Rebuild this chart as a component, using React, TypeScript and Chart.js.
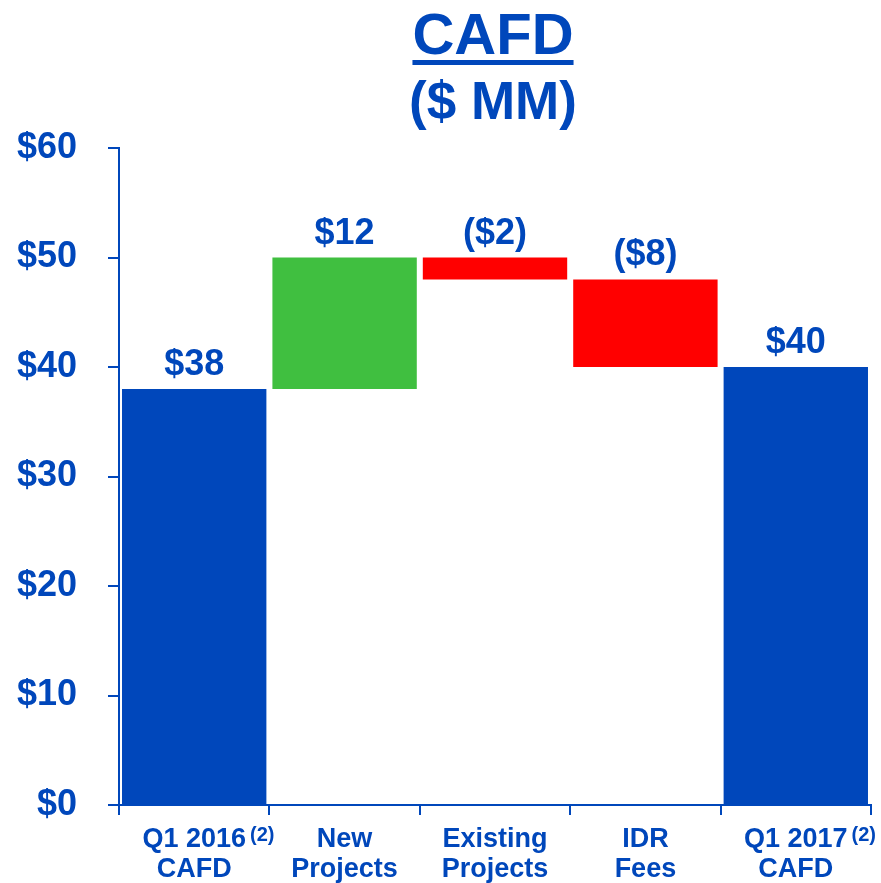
import React, { useEffect, useRef } from "react";
import { Chart, registerables } from "chart.js";

Chart.register(...registerables);

const categoryLines: string[][] = [
  ["Q1 2016", "CAFD"],
  ["New", "Projects"],
  ["Existing", "Projects"],
  ["IDR", "Fees"],
  ["Q1 2017", "CAFD"],
];
const categorySup: string[] = ["(2)", "", "", "", "(2)"];
const changes: number[] = [38, 12, -2, -8, 40];
const kinds: string[] = ["total", "delta", "delta", "delta", "total"];
const valueLabels: string[] = ["$38", "$12", "($2)", "($8)", "$40"];
const yTicks: number[] = [0, 10, 20, 30, 40, 50, 60];
const titleLine1 = "CAFD";
const titleLine2 = "($ MM)";

const BLUE = "#0047BB";
const GREEN = "#40BF40";
const RED = "#FF0000";
const FONT = "'Liberation Sans', Arial, sans-serif";

function buildRanges(): [number, number][] {
  let running = 0;
  return changes.map((v, i) => {
    if (kinds[i] === "total") {
      running = v;
      return [0, v] as [number, number];
    }
    const start = running;
    running = running + v;
    return [start, running] as [number, number];
  });
}

function barColor(i: number): string {
  if (kinds[i] === "total") return BLUE;
  return changes[i] >= 0 ? GREEN : RED;
}

const overlayPlugin = {
  id: "overlay",
  afterDraw(chart: any) {
    const ctx = chart.ctx;
    const area = chart.chartArea;
    const cx = (area.left + area.right) / 2 - 2;
    ctx.save();
    ctx.fillStyle = BLUE;
    ctx.textAlign = "center";
    ctx.textBaseline = "alphabetic";
    // title
    ctx.font = `bold 58px ${FONT}`;
    ctx.fillText(titleLine1, cx, 54);
    const w = ctx.measureText(titleLine1).width;
    ctx.fillRect(cx - w / 2, 60, w, 5);
    ctx.font = `bold 53px ${FONT}`;
    ctx.fillText(titleLine2, cx, 119);

    // value labels
    const meta = chart.getDatasetMeta(0);
    ctx.font = `bold 36px ${FONT}`;
    meta.data.forEach((el: any, i: number) => {
      const top = Math.min(el.y, el.base);
      ctx.fillText(valueLabels[i], el.x, top - 14);
    });

    // x category labels
    const xs = chart.scales.x;
    categoryLines.forEach((lines, i) => {
      const x = xs.getPixelForValue(i);
      ctx.font = `bold 27px ${FONT}`;
      ctx.textAlign = "center";
      ctx.fillText(lines[0], x, 847);
      ctx.fillText(lines[1], x, 877);
      if (categorySup[i]) {
        const lw = ctx.measureText(lines[0]).width;
        ctx.font = `bold 20px ${FONT}`;
        ctx.textAlign = "left";
        ctx.fillText(categorySup[i], x + lw / 2 + 4, 841);
      }
    });
    ctx.restore();
  },
};

export default function App() {
  const ref = useRef<HTMLCanvasElement | null>(null);
  useEffect(() => {
    if (!ref.current) return;
    const ranges = buildRanges();
    const chart = new Chart(ref.current, {
      type: "bar",
      data: {
        labels: categoryLines.map((l) => l.join(" ")),
        datasets: [
          {
            data: ranges as any,
            backgroundColor: changes.map((_, i) => barColor(i)),
            borderWidth: 0,
            barPercentage: 0.96,
            categoryPercentage: 1,
          },
        ],
      },
      options: {
        animation: false,
        responsive: false,
        maintainAspectRatio: false,
        layout: { padding: { top: 148, left: 15, right: 10, bottom: 68 } },
        plugins: {
          legend: { display: false },
          tooltip: { enabled: false },
          title: { display: false },
        },
        scales: {
          x: {
            offset: true,
            grid: {
              display: true,
              offset: true,
              drawOnChartArea: false,
              drawTicks: true,
              tickLength: 10,
              color: BLUE,
              lineWidth: 2,
            },
            border: { display: true, color: BLUE, width: 2 },
            ticks: { display: false },
          },
          y: {
            min: 0,
            max: 60,
            afterBuildTicks: (axis: any) => {
              axis.ticks = yTicks.map((v) => ({ value: v }));
            },
            afterFit: (axis: any) => {
              axis.width = 104;
            },
            grid: {
              display: true,
              drawOnChartArea: false,
              drawTicks: true,
              tickLength: 11,
              color: BLUE,
              lineWidth: 2,
            },
            border: { display: true, color: BLUE, width: 2 },
            ticks: {
              color: BLUE,
              padding: 31,
              font: { family: FONT, size: 36, weight: "bold" },
              callback: (v: any) => "$" + v,
            },
          },
        },
      },
      plugins: [overlayPlugin],
    });
    return () => chart.destroy();
  }, []);
  return (
    <div style={{ position: "fixed", left: 0, top: 0, width: 881, height: 883, background: "#fff" }}>
      <canvas ref={ref} width={881} height={883} style={{ width: 881, height: 883, display: "block" }} />
    </div>
  );
}
